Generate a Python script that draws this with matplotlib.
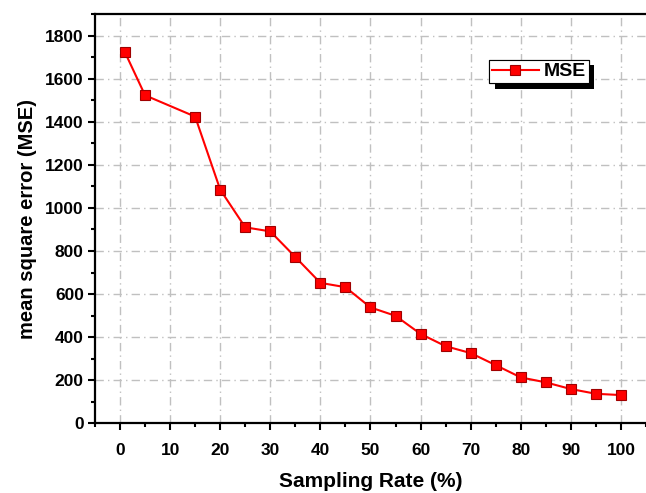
#!/usr/bin/env python3
import numpy as np
from matplotlib import pyplot as plt
from matplotlib import patheffects as pe
from matplotlib.ticker import MultipleLocator

# data
rate = [1, 5, 15, 20, 25, 30, 35, 40, 45, 50, 55, 60, 65, 70, 75, 80, 85, 90, 95, 100]
mse = [1722, 1523, 1424, 1085, 910, 891, 772, 652, 632, 538, 499, 415, 358, 326, 270, 213, 190, 159, 137, 131]

plt.rcParams['font.family'] = ['Liberation Sans', 'DejaVu Sans']
plt.rcParams['font.weight'] = 'bold'

fig = plt.figure(figsize=(6.46, 4.93), dpi=100)
ax = fig.add_axes([0.147, 0.1414, 0.853, 0.83])

ax.plot(rate, mse, color='#ff0000', lw=1.5, marker='s', ms=6.5,
        mfc='#ff0000', mec='#a00000', mew=0.8, label='MSE')

ax.set_xlim(-5, 105)
ax.set_ylim(0, 1900)
ax.xaxis.set_major_locator(MultipleLocator(10))
ax.xaxis.set_minor_locator(MultipleLocator(5))
ax.yaxis.set_major_locator(MultipleLocator(200))
ax.yaxis.set_minor_locator(MultipleLocator(100))

ax.grid(True, which='major', color='#c0c0c0', ls=(0, (6, 3, 1, 3)), lw=1)
ax.set_axisbelow(True)

for side in ['left', 'bottom', 'top']:
    ax.spines[side].set_linewidth(1.6)
ax.spines['right'].set_visible(False)

ax.tick_params(which='major', direction='out', length=5, width=1.5, labelsize=12.5, pad=3)
ax.tick_params(which='minor', direction='out', length=3, width=1.5)
ax.tick_params(axis='x', pad=9)
for lab in ax.get_xticklabels() + ax.get_yticklabels():
    lab.set_fontweight('bold')

ax.set_xlabel('Sampling Rate (%)', fontsize=15, fontweight='bold', labelpad=10)
ax.set_ylabel('mean square error (MSE)', fontsize=14.5, fontweight='bold', labelpad=6)

# legend with a solid black drop shadow
leg = ax.legend(loc='upper left', bbox_to_anchor=(0.715, 0.888), borderaxespad=0,
                fancybox=False, framealpha=1, edgecolor='black',
                prop={'size': 14, 'weight': 'bold'}, handlelength=2.4,
                handletextpad=0.25, borderpad=0.15)
frame = leg.get_frame()
frame.set_linewidth(0.8)
frame.set_path_effects([pe.withSimplePatchShadow(offset=(4, -4), shadow_rgbFace='black', alpha=1),
                        pe.Normal()])

fig.savefig('out.png', dpi=100)
